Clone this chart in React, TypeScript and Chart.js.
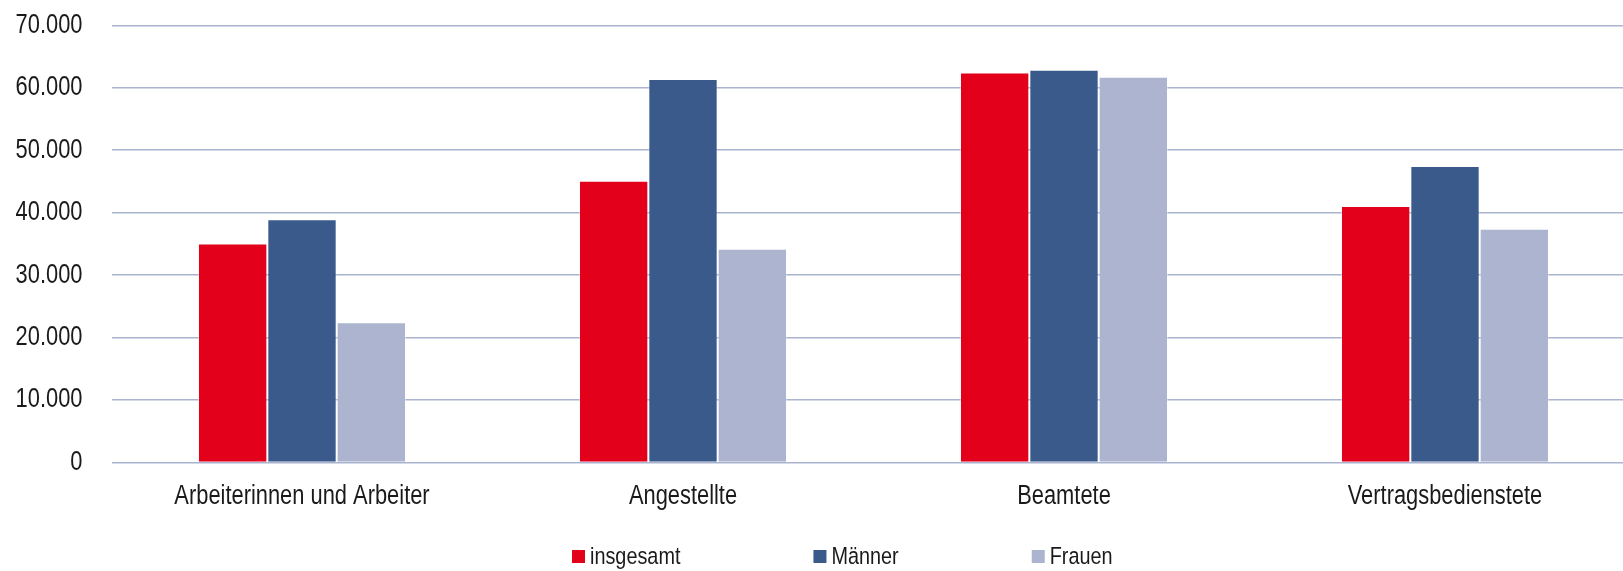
import React, { useEffect, useRef } from 'react';
import { Chart, registerables } from 'chart.js';

Chart.register(...registerables);

const categories = ['Arbeiterinnen und Arbeiter', 'Angestellte', 'Beamtete', 'Vertragsbedienstete'];
const seriesNames = ['insgesamt', 'Männer', 'Frauen'];
const insgesamt = [35060, 45120, 62450, 41050];
const maenner = [38950, 61390, 62880, 47470];
const frauen = [22470, 34210, 61760, 37420];
const seriesColors = ['#E2001A', '#3A5A8C', '#ACB4CF'];
const yMin = 0;
const yMax = 70000;
const yStep = 10000;

const FONT = "'Liberation Sans', Arial, sans-serif";
const TEXT = '#1a1a1a';
const NARROW = 0.81;

const fmt = (v: number) => String(Math.round(v)).replace(/\B(?=(\d{3})+(?!\d))/g, '.');

const legendPlugin = {
  id: 'customLegend',
  afterDraw(chart: any) {
    const ctx = chart.ctx as CanvasRenderingContext2D;
    ctx.save();
    ctx.font = `24.5px ${FONT}`;
    ctx.textBaseline = 'middle';
    ctx.textAlign = 'left';
    let x = 572;
    const y = 556.5;
    chart.data.datasets.forEach((ds: any) => {
      ctx.fillStyle = ds.backgroundColor;
      ctx.fillRect(x, y - 6.5, 13, 13);
      ctx.fillStyle = TEXT;
      ctx.fillText(ds.label, x + 18, y + 1);
      x += 18 + ctx.measureText(ds.label).width + 133;
    });
    ctx.restore();
  },
};

function narrowContext(ctx: CanvasRenderingContext2D) {
  const origFill = ctx.fillText.bind(ctx);
  const origMeasure = ctx.measureText.bind(ctx);
  (ctx as any).fillText = (text: string, x: number, y: number, maxWidth?: number) => {
    ctx.save();
    ctx.translate(x, y);
    ctx.scale(NARROW, 1);
    if (maxWidth !== undefined) origFill(text, 0, 0, maxWidth / NARROW);
    else origFill(text, 0, 0);
    ctx.restore();
  };
  (ctx as any).measureText = (text: string) => {
    const m = origMeasure(text);
    return {
      width: m.width * NARROW,
      actualBoundingBoxAscent: m.actualBoundingBoxAscent,
      actualBoundingBoxDescent: m.actualBoundingBoxDescent,
      actualBoundingBoxLeft: m.actualBoundingBoxLeft * NARROW,
      actualBoundingBoxRight: m.actualBoundingBoxRight * NARROW,
      fontBoundingBoxAscent: (m as any).fontBoundingBoxAscent,
      fontBoundingBoxDescent: (m as any).fontBoundingBoxDescent,
    };
  };
}

export default function App() {
  const ref = useRef<HTMLCanvasElement | null>(null);
  useEffect(() => {
    const canvas = ref.current;
    if (!canvas) return;
    const ctx = canvas.getContext('2d');
    if (ctx) narrowContext(ctx);
    const values = [insgesamt, maenner, frauen];
    const chart = new Chart(canvas, {
      type: 'bar',
      data: {
        labels: categories,
        datasets: seriesNames.map((name, i) => ({
          label: name,
          data: values[i],
          backgroundColor: seriesColors[i],
          borderColor: 'rgba(255,255,255,0.35)',
          borderWidth: 1,
          categoryPercentage: 0.546,
          barPercentage: 1,
        })),
      },
      options: {
        responsive: false,
        animation: false,
        devicePixelRatio: 1,
        layout: { padding: { left: 16, right: 4.5, top: 25.3, bottom: 48.5 } },
        plugins: {
          legend: { display: false },
          tooltip: { enabled: false },
        },
        scales: {
          x: {
            grid: { display: false },
            border: { display: false },
            ticks: {
              color: TEXT,
              font: { family: FONT, size: 27 },
              padding: 10,
              maxRotation: 0,
              autoSkip: false,
            },
            afterFit: (s: any) => { s.height = 60; },
          },
          y: {
            min: yMin,
            max: yMax,
            grid: {
              color: '#AAB3D0',
              lineWidth: 1.6,
              drawTicks: true,
              tickLength: 29,
              tickColor: 'rgba(0,0,0,0)',
            },
            border: { display: false },
            ticks: {
              stepSize: yStep,
              color: TEXT,
              font: { family: FONT, size: 27 },
              padding: 0,
              callback: (v: any) => fmt(Number(v)),
            },
            afterFit: (s: any) => { s.width = 95.5; },
          },
        },
      },
      plugins: [legendPlugin],
    });
    return () => chart.destroy();
  }, []);
  return (
    <div style={{ position: 'absolute', left: 0, top: 0, width: 1623, height: 571, overflow: 'hidden', background: '#fff' }}>
      <canvas ref={ref} width={1640} height={571} style={{ display: 'block' }} />
    </div>
  );
}
